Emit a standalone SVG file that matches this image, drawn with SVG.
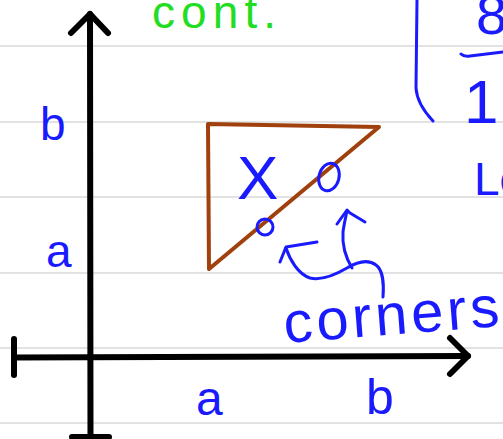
<svg xmlns="http://www.w3.org/2000/svg" width="503" height="439" viewBox="0 0 503 439">
<style>
.rule{stroke:#c6c6c6;stroke-width:1.2;fill:none}
.ax{stroke:#000;stroke-width:6;fill:none;stroke-linecap:round;stroke-linejoin:round}
.br{stroke:#a0410d;stroke-width:4;fill:none;stroke-linecap:round;stroke-linejoin:round}
.bl{stroke:#1a1aff;stroke-width:3;fill:none;stroke-linecap:round;stroke-linejoin:round}
.t{font-family:"Liberation Sans",Arial,sans-serif;fill:#1a1aff}
.g{font-family:"Liberation Sans",Arial,sans-serif;fill:#22dd22}
</style>
<rect width="503" height="439" fill="#fff"/>
<g id="rules">
<line class="rule" x1="0" y1="46" x2="503" y2="46"/>
<line class="rule" x1="0" y1="122" x2="503" y2="122"/>
<line class="rule" x1="0" y1="197" x2="503" y2="197"/>
<line class="rule" x1="0" y1="273" x2="503" y2="273"/>
<line class="rule" x1="0" y1="348" x2="503" y2="348"/>
<line class="rule" x1="0" y1="423" x2="503" y2="423"/>
</g>
<g id="axes">
<path class="ax" d="M90,14 L90.5,439"/>
<path class="ax" d="M71,33 L90,14 L108,33"/>
<path class="ax" d="M72,437 L109,437"/>
<path class="ax" d="M14,357.5 L468,356"/>
<path class="ax" d="M14,339 L14,375"/>
<path class="ax" d="M450,338 L468,356 L450,374"/>
</g>
<g id="triangle">
<path class="br" d="M208,124 L379,127 L209,269 Z"/>
</g>
<g id="markers">
<text class="t" x="237" y="199" font-size="62">X</text>
<ellipse class="bl" cx="329" cy="177" rx="10" ry="14" transform="rotate(15 329 177)"/>
<circle class="bl" cx="265" cy="227" r="8"/>
</g>
<g id="connectors">
<path class="bl" d="M383,297 C384,285 383,270 376,265 C368,259 357,262 347,268 C335,275 322,281 310,278 C298,274 290,260 286,248"/>
<path class="bl" d="M280,262 L286,247 L317,242"/>
<path class="bl" d="M352,268 C346,258 342,245 343,232 C344,224 346,216 347,211"/>
<path class="bl" d="M337,224 L347,210 L350,213 L365,222"/>
</g>
<g id="labels">
<text class="g" x="152" y="28" font-size="46" textLength="124" lengthAdjust="spacing">cont.</text>
<path class="bl" d="M417,0 L416,88 Q417,104 433,121"/>
<text class="t" x="476" y="34" font-size="56">8</text>
<path class="bl" d="M461,54 Q464,57 470,56 L503,52"/>
<text class="t" x="464" y="123" font-size="62">1</text>
<text class="t" x="474" y="195" font-size="46">Lo</text>
<text class="t" x="40" y="140" font-size="46">b</text>
<text class="t" x="46" y="267" font-size="46">a</text>
<text class="t" x="196" y="415" font-size="48">a</text>
<text class="t" x="366" y="414" font-size="50">b</text>
<text class="t" x="285" y="343" font-size="58" textLength="216" lengthAdjust="spacing" transform="rotate(-4.5 285 343)">corners</text>
</g>
</svg>
